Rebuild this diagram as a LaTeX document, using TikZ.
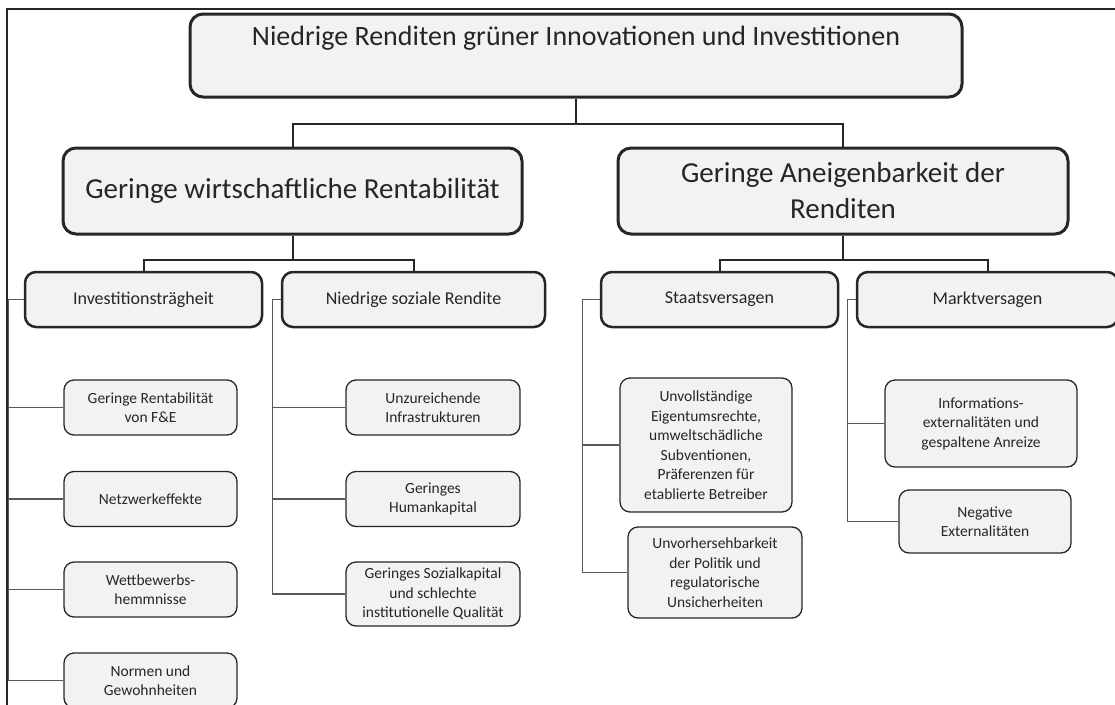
\documentclass[tikz,border=0pt]{standalone}
\usepackage{fontspec}
\setmainfont{Carlito}
\definecolor{boxline}{HTML}{262626}
\definecolor{boxfill}{HTML}{F2F2F2}
\definecolor{linkgray}{HTML}{595959}
\tikzset{
	topbox/.style={draw=boxline,fill=boxfill,line width=3pt,rounded corners=13pt,inner sep=0pt,align=center,text=boxline,font=\fontsize{28}{33}\selectfont},
	mainbox/.style={draw=boxline,fill=boxfill,line width=3pt,rounded corners=13pt,inner sep=0pt,minimum height=86pt,align=center,text=boxline,font=\fontsize{29}{36}\selectfont},
	subbox/.style={draw=boxline,fill=boxfill,line width=2.5pt,rounded corners=11pt,inner sep=0pt,minimum height=55pt,align=center,text=boxline,font=\fontsize{18}{21}\selectfont},
	leaf/.style={draw=boxline,fill=boxfill,line width=1.3pt,rounded corners=10pt,inner sep=0pt,align=center,text=boxline,font=\fontsize{15.5}{19.5}\selectfont},
	trunk/.style={draw=boxline,line width=2pt},
	twig/.style={draw=linkgray,line width=1.4pt}
}
\begin{document}
\begin{tikzpicture}[x=1pt,y=-1pt]
		\useasboundingbox (0,0) rectangle (1115,704);
		% frame of the cut-out
		\draw [boxline,line width=2.5pt] (7,712) -- (7,9) -- (1120,9);
		% top
		\node [topbox,minimum width=772pt,text height=31pt,text depth=52pt] (top) at (576,55.5) {Niedrige Renditen grüner Innovationen und Investitionen};
		% second row
		\node [mainbox,minimum width=459pt] (rent) at (292.5,191) {Geringe wirtschaftliche Rentabilität};
		\node [mainbox,minimum width=450pt] (aneig) at (843,191) {Geringe Aneigenbarkeit der\\Renditen};
		% third row
		\node [subbox,minimum width=237pt] (inert) at (143.5,299.5) {Investitionsträgheit};
		\node [subbox,minimum width=263pt] (sozial) at (413.5,299.5) {Niedrige soziale Rendite};
		\node [subbox,minimum width=237pt] (staat) at (719.5,299.5) {Staatsversagen};
		\node [subbox,minimum width=261pt] (markt) at (987.5,299.5) {Marktversagen};
		% leaves
		\node [leaf,minimum width=173pt,minimum height=55pt] (fue) at (150.5,407.5) {Geringe Rentabilität\\von F\&E};
		\node [leaf,minimum width=173pt,minimum height=55pt] (netz) at (150.5,499) {Netzwerkeffekte};
		\node [leaf,minimum width=173pt,minimum height=55pt] (wettb) at (150.5,589.5) {Wettbewerbs-\\hemmnisse};
		\node [leaf,minimum width=173pt,minimum height=55pt] (normen) at (150.5,680.5) {Normen und\\Gewohnheiten};
		\node [leaf,minimum width=174pt,minimum height=55pt] (infra) at (433,407.5) {Unzureichende\\Infrastrukturen};
		\node [leaf,minimum width=174pt,minimum height=55pt] (human) at (433,499) {Geringes\\Humankapital};
		\node [leaf,minimum width=174pt,minimum height=64pt] (qual) at (433,594) {Geringes Sozialkapital\\und schlechte\\institutionelle Qualität};
		\node [leaf,minimum width=172pt,minimum height=134pt] (eigen) at (706,445) {Unvollständige\\Eigentumsrechte,\\umweltschädliche\\Subventionen,\\Präferenzen für\\etablierte Betreiber};
		\node [leaf,minimum width=174pt,minimum height=91pt] (politik) at (715,572.5) {Unvorhersehbarkeit\\der Politik und\\regulatorische\\Unsicherheiten};
		\node [leaf,minimum width=192pt,minimum height=87pt] (info) at (981,423.5) {Informations-\\externalitäten und\\gespaltene Anreize};
		\node [leaf,minimum width=172pt,minimum height=63pt] (extern) at (985,521.5) {Negative\\Externalitäten};
		% links
		\draw [trunk] (top.south) -- ++(0,25) -| (rent.north);
		\draw [trunk] (top.south) -- ++(0,25) -| (aneig.north);
		\draw [trunk] (rent.south) -- ++(0,24) -| (inert.north);
		\draw [trunk] (rent.south) -- ++(0,24) -| (sozial.north);
		\draw [trunk] (aneig.south) -- ++(0,24) -| (staat.north);
		\draw [trunk] (aneig.south) -- ++(0,24) -| (markt.north);
		\foreach \leafname in {fue,netz,wettb,normen}
			\draw [twig] (inert.west) -- ++(-15,0) |- (\leafname.west);
		\foreach \leafname in {infra,human,qual}
			\draw [twig] (sozial.west) -- ++(-8,0) |- (\leafname.west);
		\foreach \leafname in {eigen,politik}
			\draw [twig] (staat.west) -- ++(-17,0) |- (\leafname.west);
		\foreach \leafname in {info,extern}
			\draw [twig] (markt.west) -- ++(-8,0) |- (\leafname.west);
	\end{tikzpicture}
\end{document}
